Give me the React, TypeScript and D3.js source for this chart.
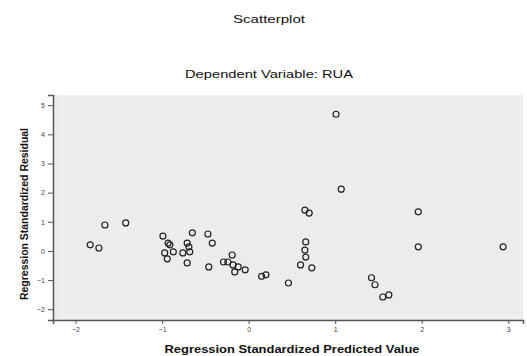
import { useEffect, useRef } from 'react';
import * as d3 from 'd3';

const width = 527;
const height = 356;
const margin = { top: 95, right: 4, bottom: 36, left: 53 };

const title = 'Scatterplot';
const subtitle = 'Dependent Variable: RUA';
const xLabel = 'Regression Standardized Predicted Value';
const yLabel = 'Regression Standardized Residual';

const xTicks = [-2, -1, 0, 1, 2, 3];
const yTicks = [-2, -1, 0, 1, 2, 3, 4, 5];

// standardized predicted values
const predicted = [
  -1.83, -1.73, -1.66, -1.42, -0.99, -0.93, -0.91, -0.87, -0.97, -0.94,
  -0.65, -0.47, -0.42, -0.71, -0.69, -0.68, -0.76, -0.71, -0.46, -0.29,
  -0.24, -0.19, -0.18, -0.12, -0.16, -0.04, 0.15, 0.20, 0.46, 0.65,
  0.70, 0.66, 0.65, 0.66, 0.60, 0.73, 1.01, 1.07, 1.42, 1.46,
  1.55, 1.62, 1.96, 1.96, 2.94,
];
// standardized residuals
const residual = [
  0.21, 0.10, 0.89, 0.96, 0.51, 0.27, 0.21, -0.03, -0.07, -0.27,
  0.62, 0.58, 0.27, 0.27, 0.14, -0.03, -0.07, -0.41, -0.55, -0.38,
  -0.38, -0.14, -0.48, -0.55, -0.72, -0.65, -0.87, -0.82, -1.10, 1.40,
  1.30, 0.31, 0.03, -0.21, -0.48, -0.58, 4.69, 2.12, -0.92, -1.16,
  -1.58, -1.51, 1.34, 0.14, 0.14,
];

export default function App() {
  const ref = useRef<SVGSVGElement>(null);

  useEffect(() => {
    const svg = d3.select(ref.current);
    svg.selectAll('*').remove();

    const x = d3.scaleLinear().domain([-2.26, 3.17]).range([margin.left, width - margin.right]);
    const y = d3.scaleLinear().domain([-2.37, 5.35]).range([height - margin.bottom, margin.top]);

    // panel
    svg.append('rect')
      .attr('x', margin.left).attr('y', margin.top)
      .attr('width', width - margin.right - margin.left)
      .attr('height', height - margin.bottom - margin.top)
      .attr('fill', '#ececec');
    svg.append('rect')
      .attr('x', margin.left + 9).attr('y', margin.top + 1)
      .attr('width', width - margin.right - margin.left - 12)
      .attr('height', height - margin.bottom - margin.top - 4)
      .attr('fill', 'none').attr('stroke', '#f6f6f6');

    const fnt = 'Arial, "Liberation Sans", sans-serif';

    const xAxis = svg.append('g')
      .attr('transform', `translate(0,${height - margin.bottom})`)
      .call(d3.axisBottom(x).tickValues(xTicks).tickSize(4).tickFormat(d3.format('d')));
    const yAxis = svg.append('g')
      .attr('transform', `translate(${margin.left},0)`)
      .call(d3.axisLeft(y).tickValues(yTicks).tickSize(5).tickFormat(d3.format('d')));

    [xAxis, yAxis].forEach(g => {
      g.select('.domain').attr('stroke', '#555').attr('stroke-width', 1.5);
      g.selectAll('.tick line').attr('stroke', '#555');
      g.selectAll('.tick text')
        .attr('font-family', fnt).attr('font-size', 7).attr('fill', '#444');
    });

    svg.append('g').selectAll('circle')
      .data(predicted.map((p, i) => [p, residual[i]]))
      .join('circle')
      .attr('cx', d => x(d[0]))
      .attr('cy', d => y(d[1]))
      .attr('r', 3)
      .attr('fill', 'none')
      .attr('stroke', '#222')
      .attr('stroke-width', 1.2);

    const label = (txt: string, tx: number, ty: number, len: number, size: number, bold: boolean, rot = 0) =>
      svg.append('text')
        .attr('transform', `translate(${tx},${ty}) rotate(${rot})`)
        .attr('text-anchor', 'middle')
        .attr('font-family', fnt).attr('font-size', size)
        .attr('font-weight', bold ? 'bold' : 'normal')
        .attr('fill', '#111')
        .attr('textLength', len).attr('lengthAdjust', 'spacingAndGlyphs')
        .text(txt);

    label(title, 269, 23, 72, 11, false);
    label(subtitle, 269, 78, 168, 11, false);
    label(xLabel, 292, 353, 255, 11, true);
    label(yLabel, 28, 214, 172, 10, true, -90);
  }, []);

  return (
    <svg ref={ref} width={width} height={height}
      style={{ position: 'absolute', left: 0, top: 0, background: '#fff' }} />
  );
}
